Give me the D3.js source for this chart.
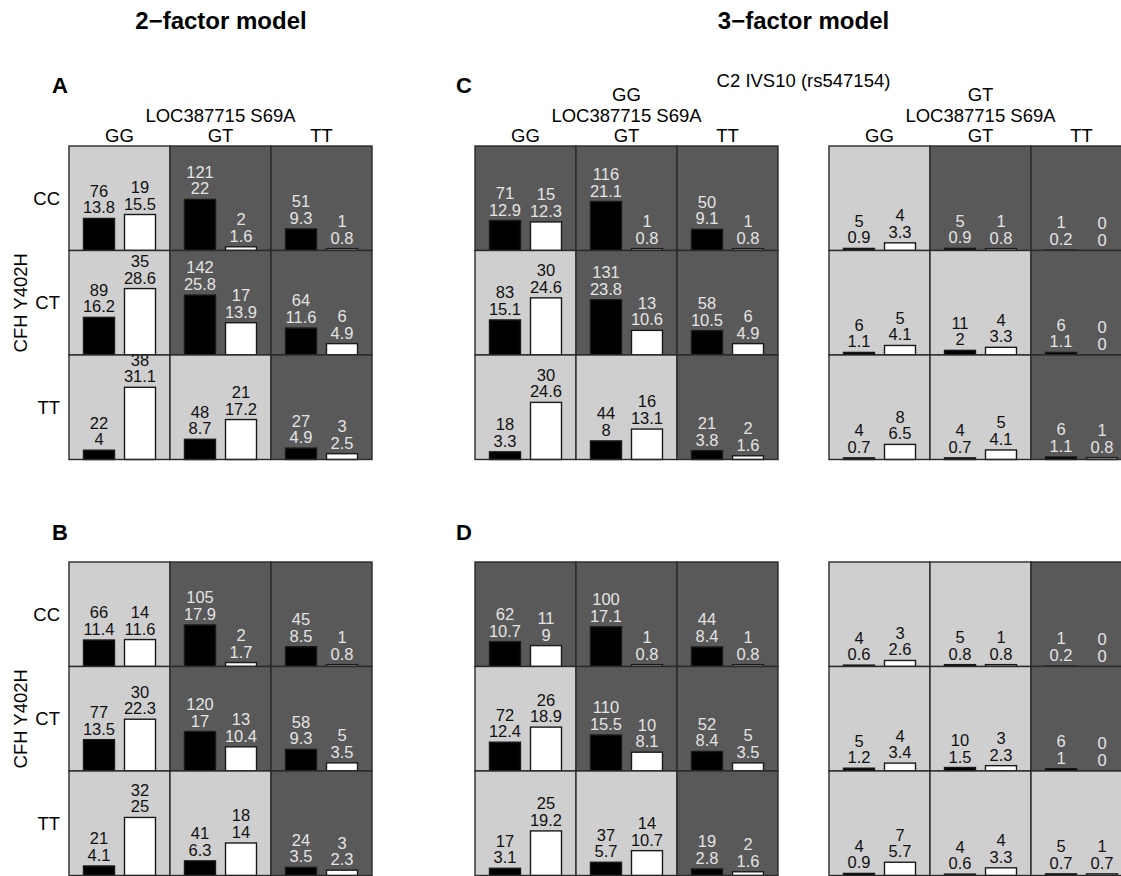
<!DOCTYPE html>
<html>
<head>
<meta charset="utf-8">
<script src="https://cdn.jsdelivr.net/npm/d3@7"></script>
<style>
  body { margin: 0; background: #fff; }
  text { font-family: "Liberation Sans", Arial, sans-serif; }
</style>
</head>
<body>
<script>
// genotype categories
const rowGenos = ["CC", "CT", "TT"];   // CFH Y402H
const colGenos = ["GG", "GT", "TT"];   // LOC387715 S69A
const groups = ["case", "ctrl"];

// A: 2-factor model, first sample
const caseNA   = [[76, 121, 51], [89, 142, 64], [22, 48, 27]];
const casePctA = [[13.8, 22, 9.3], [16.2, 25.8, 11.6], [4, 8.7, 4.9]];
const ctrlNA   = [[19, 2, 1], [35, 17, 6], [38, 21, 3]];
const ctrlPctA = [[15.5, 1.6, 0.8], [28.6, 13.9, 4.9], [31.1, 17.2, 2.5]];
const shadeA   = [["L", "D", "D"], ["L", "D", "D"], ["L", "L", "D"]];

// B: 2-factor model, second sample
const caseNB   = [[66, 105, 45], [77, 120, 58], [21, 41, 24]];
const casePctB = [[11.4, 17.9, 8.5], [13.5, 17, 9.3], [4.1, 6.3, 3.5]];
const ctrlNB   = [[14, 2, 1], [30, 13, 5], [32, 18, 3]];
const ctrlPctB = [[11.6, 1.7, 0.8], [22.3, 10.4, 3.5], [25, 14, 2.3]];
const shadeB   = [["L", "D", "D"], ["L", "D", "D"], ["L", "L", "D"]];

// C: 3-factor model, C2 = GG
const caseNC1   = [[71, 116, 50], [83, 131, 58], [18, 44, 21]];
const casePctC1 = [[12.9, 21.1, 9.1], [15.1, 23.8, 10.5], [3.3, 8, 3.8]];
const ctrlNC1   = [[15, 1, 1], [30, 13, 6], [30, 16, 2]];
const ctrlPctC1 = [[12.3, 0.8, 0.8], [24.6, 10.6, 4.9], [24.6, 13.1, 1.6]];
const shadeC1   = [["D", "D", "D"], ["L", "D", "D"], ["L", "L", "D"]];

// C: 3-factor model, C2 = GT
const caseNC2   = [[5, 5, 1], [6, 11, 6], [4, 4, 6]];
const casePctC2 = [[0.9, 0.9, 0.2], [1.1, 2, 1.1], [0.7, 0.7, 1.1]];
const ctrlNC2   = [[4, 1, 0], [5, 4, 0], [8, 5, 1]];
const ctrlPctC2 = [[3.3, 0.8, 0], [4.1, 3.3, 0], [6.5, 4.1, 0.8]];
const shadeC2   = [["L", "D", "D"], ["L", "L", "D"], ["L", "L", "D"]];

// D: 3-factor model, C2 = GG
const caseND1   = [[62, 100, 44], [72, 110, 52], [17, 37, 19]];
const casePctD1 = [[10.7, 17.1, 8.4], [12.4, 15.5, 8.4], [3.1, 5.7, 2.8]];
const ctrlND1   = [[11, 1, 1], [26, 10, 5], [25, 14, 2]];
const ctrlPctD1 = [[9, 0.8, 0.8], [18.9, 8.1, 3.5], [19.2, 10.7, 1.6]];
const shadeD1   = [["D", "D", "D"], ["L", "D", "D"], ["L", "L", "D"]];

// D: 3-factor model, C2 = GT
const caseND2   = [[4, 5, 1], [5, 10, 6], [4, 4, 5]];
const casePctD2 = [[0.6, 0.8, 0.2], [1.2, 1.5, 1], [0.9, 0.6, 0.7]];
const ctrlND2   = [[3, 1, 0], [4, 3, 0], [7, 4, 1]];
const ctrlPctD2 = [[2.6, 0.8, 0], [3.4, 2.3, 0], [5.7, 3.3, 0.7]];
const shadeD2   = [["L", "L", "D"], ["L", "L", "D"], ["L", "L", "L"]];

const W = 1121, H = 876;
const gridW = 303, gridH = 313.5;
const light = "#cfcfcf", dark = "#595959";

const svg = d3.select("body").append("svg")
    .attr("width", W)
    .attr("height", H);

const xCol = d3.scaleBand().domain(colGenos).range([0, gridW]);
const yRow = d3.scaleBand().domain(rowGenos).range([0, gridH]);
const xBar = d3.scaleBand().domain(groups).range([14.5, 86.5]).paddingInner(0.244);
const yPct = d3.scaleLinear().domain([0, 45]).range([yRow.bandwidth(), 0]);

function drawGrid(x0, y0, caseN, casePct, ctrlN, ctrlPct, shade) {
    const cells = [];
    rowGenos.forEach((r, i) => colGenos.forEach((c, j) => {
        cells.push({
            r, c, shade: shade[i][j],
            bars: [
                {g: "case", n: caseN[i][j], p: casePct[i][j]},
                {g: "ctrl", n: ctrlN[i][j], p: ctrlPct[i][j]}
            ]
        });
    }));

    const g = svg.append("g").attr("transform", `translate(${x0},${y0})`);

    const cell = g.selectAll("g.cell")
        .data(cells)
        .enter()
        .append("g")
        .attr("class", "cell")
        .attr("transform", d => `translate(${xCol(d.c)},${yRow(d.r)})`);

    cell.append("rect")
        .attr("width", xCol.bandwidth())
        .attr("height", yRow.bandwidth())
        .attr("fill", d => d.shade === "L" ? light : dark);

    const bar = cell.selectAll("g.bar")
        .data(d => d.bars.map(b => Object.assign({shade: d.shade}, b)))
        .enter()
        .append("g")
        .attr("class", "bar");

    bar.filter(d => d.p > 0).append("rect")
        .attr("x", d => xBar(d.g))
        .attr("y", d => yPct(d.p))
        .attr("width", xBar.bandwidth())
        .attr("height", d => yPct(0) - yPct(d.p))
        .attr("fill", d => d.g === "case" ? "#000" : "#fff")
        .attr("stroke", "#1a1a1a")
        .attr("stroke-width", 1.4);

    const lbl = bar.append("text")
        .attr("text-anchor", "middle")
        .attr("font-size", 16.5)
        .attr("fill", d => d.shade === "L" ? "#111" : "#e4e4e4");
    lbl.append("tspan")
        .attr("x", d => xBar(d.g) + xBar.bandwidth() / 2)
        .attr("y", d => yPct(d.p) - 5 - 16.6)
        .text(d => d.n);
    lbl.append("tspan")
        .attr("x", d => xBar(d.g) + xBar.bandwidth() / 2)
        .attr("y", d => yPct(d.p) - 5)
        .text(d => d.p);

    // cell borders
    cell.append("rect")
        .attr("width", xCol.bandwidth())
        .attr("height", yRow.bandwidth())
        .attr("fill", "none")
        .attr("stroke", "#2a2a2a")
        .attr("stroke-width", 1.4);

    return g;
}

function colHeader(x0, topLabel) {
    const cx = x0 + gridW / 2;
    if (topLabel) {
        svg.append("text").attr("x", cx).attr("y", 100.5)
            .attr("text-anchor", "middle").attr("font-size", 18.5).text(topLabel);
    }
    svg.append("text").attr("x", cx).attr("y", 121.5)
        .attr("text-anchor", "middle").attr("font-size", 18.5).text("LOC387715 S69A");
    svg.selectAll(null).data(colGenos).enter().append("text")
        .attr("x", d => x0 + xCol(d) + xCol.bandwidth() / 2)
        .attr("y", 141.5)
        .attr("text-anchor", "middle")
        .attr("font-size", 18.5)
        .text(d => d);
}

function rowHeader(x0, y0) {
    svg.selectAll(null).data(rowGenos).enter().append("text")
        .attr("x", x0 - 9)
        .attr("y", d => y0 + yRow(d) + yRow.bandwidth() / 2 + 6.5)
        .attr("text-anchor", "end")
        .attr("font-size", 18.5)
        .text(d => d);
    svg.append("text")
        .attr("transform", `translate(27,${y0 + gridH / 2}) rotate(-90)`)
        .attr("text-anchor", "middle")
        .attr("font-size", 18.5)
        .text("CFH Y402H");
}

// titles
svg.append("text").attr("x", 221).attr("y", 28.5).attr("text-anchor", "middle")
    .attr("font-size", 24).attr("font-weight", "bold").text("2\u2212factor model");
svg.append("text").attr("x", 803.5).attr("y", 28.5).attr("text-anchor", "middle")
    .attr("font-size", 24).attr("font-weight", "bold").text("3\u2212factor model");

// panel letters
[["A", 52, 92.5], ["C", 456, 92.5], ["B", 52, 540], ["D", 456, 540]].forEach(([t, x, y]) => {
    svg.append("text").attr("x", x).attr("y", y)
        .attr("font-size", 22).attr("font-weight", "bold").text(t);
});

svg.append("text").attr("x", 803.5).attr("y", 87).attr("text-anchor", "middle")
    .attr("font-size", 18.5).text("C2 IVS10 (rs547154)");

colHeader(69, null);
colHeader(475, "GG");
colHeader(829, "GT");
rowHeader(69, 146);
rowHeader(69, 562);

drawGrid(69, 146, caseNA, casePctA, ctrlNA, ctrlPctA, shadeA);
drawGrid(69, 562, caseNB, casePctB, ctrlNB, ctrlPctB, shadeB);
drawGrid(475, 146, caseNC1, casePctC1, ctrlNC1, ctrlPctC1, shadeC1);
drawGrid(829, 146, caseNC2, casePctC2, ctrlNC2, ctrlPctC2, shadeC2);
drawGrid(475, 562, caseND1, casePctD1, ctrlND1, ctrlPctD1, shadeD1);
drawGrid(829, 562, caseND2, casePctD2, ctrlND2, ctrlPctD2, shadeD2);
</script>
</body>
</html>
